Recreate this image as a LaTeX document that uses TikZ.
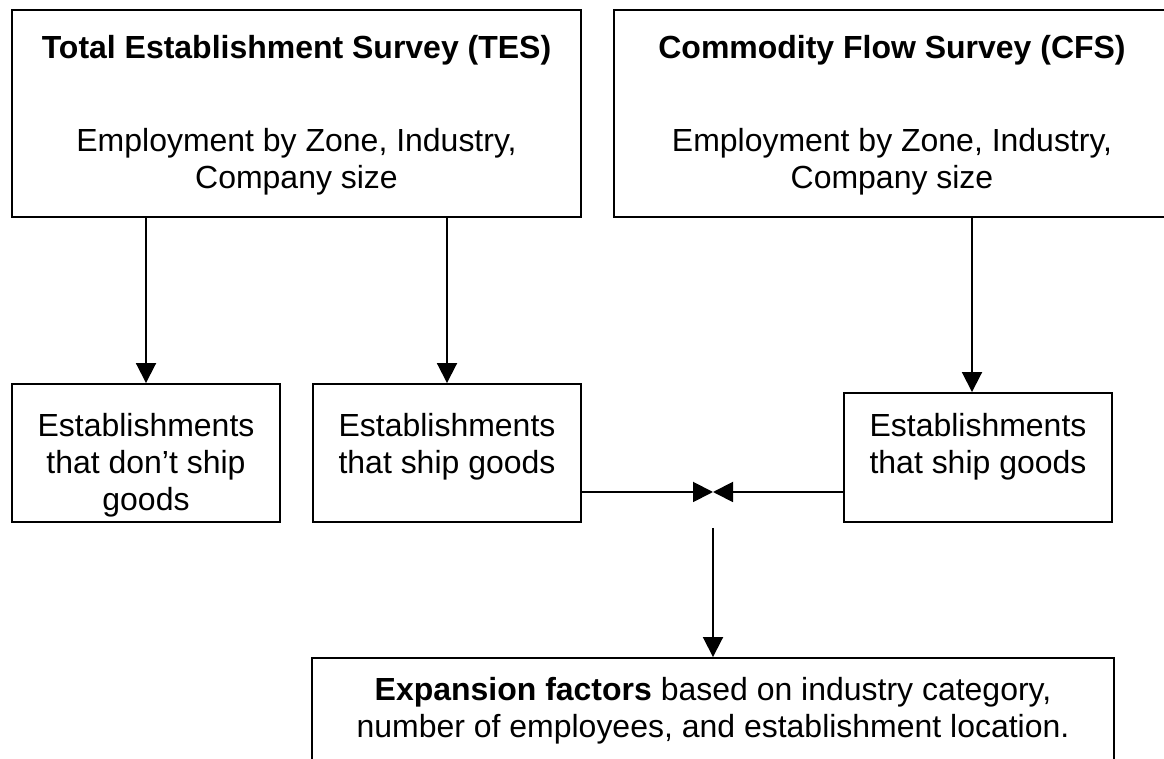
\documentclass[tikz,border=0pt]{standalone}
\usepackage{fontspec}
\setmainfont{Liberation Sans}
\usetikzlibrary{arrows.meta,positioning}
\tikzstyle{arrow} = [line width=1.1pt,-{Triangle[length=0.4cm,width=0.4cm]}]
\tikzstyle{box} = [rectangle, draw, line width=1.1pt, inner sep=0pt]
\tikzstyle{boxtext} = [align=center, inner sep=0pt, anchor=north, font=\fontsize{18.2}{21}\selectfont]

\begin{document}
\begin{tikzpicture}[x=0.02cm,y=-0.02cm]
\useasboundingbox (0,0) rectangle (1164,759);
\clip (0,0) rectangle (1164,759);

% Survey boxes
\node[box, minimum width=11.38cm, minimum height=4.14cm] (tes) at (296.5,113.5) {};
\node[box, minimum width=11.12cm, minimum height=4.14cm] (cfs) at (892,113.5) {};
\node[boxtext] (tes title) at (296.5,34.7) {\textbf{Total Establishment Survey (TES)}};
\node[boxtext] (tes body) at (296.5,127.7) {Employment by Zone, Industry,\\Company size};
\node[boxtext] (cfs title) at (892,34.7) {\textbf{Commodity Flow Survey (CFS)}};
\node[boxtext] (cfs body) at (892,127.7) {Employment by Zone, Industry,\\Company size};

% Establishment boxes
\node[box, minimum width=5.36cm, minimum height=2.76cm] (noship) at (146,453) {};
\node[box, minimum width=5.36cm, minimum height=2.76cm] (ship) at (447,453) {};
\node[box, minimum width=5.36cm, minimum height=2.58cm] (cfsship) at (978,457.5) {};
\node[boxtext] (noship text) at (146,412.7) {Establishments\\that don’t ship\\goods};
\node[boxtext] (ship text) at (447,412.7) {Establishments\\that ship goods};
\node[boxtext] (cfsship text) at (978,412.7) {Establishments\\that ship goods};

% Expansion factors
\node[box, minimum width=16.04cm, minimum height=2.84cm] (factors) at (713,729) {};
\node[boxtext] (factors text) at (713,676.7) {\textbf{Expansion factors} based on industry category,\\number of employees, and establishment location.};

% Connections
\coordinate (meet) at (713,492);
\coordinate (split) at (713,528);
\draw[arrow] (tes.south -| noship.north) -- (noship.north);
\draw[arrow] (tes.south -| ship.north) -- (ship.north);
\draw[arrow] ([xshift=-0.12cm]cfsship.north |- cfs.south) -- ([xshift=-0.12cm]cfsship.north);
\draw[arrow] (ship.east |- meet) -- (meet);
\draw[arrow] (cfsship.west |- meet) -- (meet);
\draw[arrow] (split) -- (factors.north);
\end{tikzpicture}
\end{document}
